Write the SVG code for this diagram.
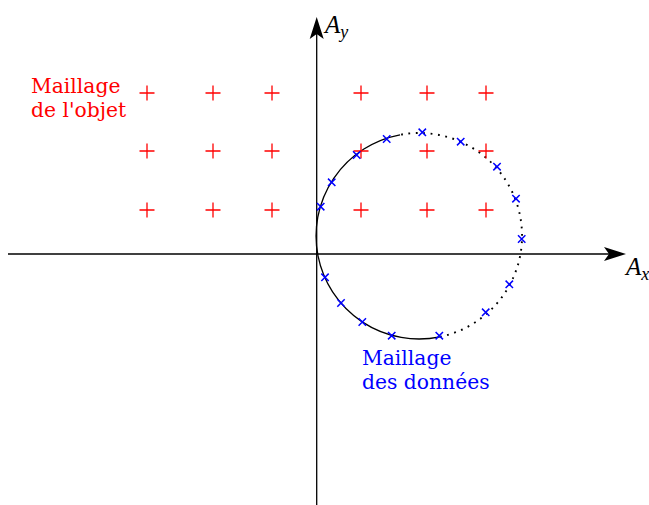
<svg xmlns="http://www.w3.org/2000/svg" width="649" height="505" viewBox="0 0 649 505">
<defs>
<style>
.axis{stroke:#000;stroke-width:1.3;fill:none}
.plus{stroke:#f00;stroke-width:1.3;fill:none}
.cross{stroke:#00f;stroke-width:1.5;fill:none}
.lbl{font-family:"DejaVu Serif",serif;font-size:20.3px}
.math{font-family:"Liberation Serif",serif;font-style:italic}
</style>
<path id="p" d="M-7.5 0H7.5M0 -7.5V7.5"/>
<path id="x" d="M-3.7 -3.7L3.7 3.7M-3.7 3.7L3.7 -3.7"/>
</defs>
<rect width="649" height="505" fill="#fff"/>
<g id="connectors">
<path class="axis" d="M8 254H612"/>
<path d="M626 254L604 247L609 254L604 261Z" fill="#000"/>
<path class="axis" d="M316.7 505V30"/>
<path d="M316.7 17L309.7 39L316.7 34L323.7 39Z" fill="#000"/>
<path class="axis" d="M400 134.77A103 103 0 1 0 440 336.84"/>
<path d="M440 336.84A103 103 0 0 0 400 134.77" fill="none" stroke="#000" stroke-width="1.9" stroke-dasharray="1.8 5.6"/>
</g>
<g id="axis-labels" class="math" fill="#000">
<text x="325" y="33" font-size="25">A<tspan font-size="18" dy="5">y</tspan></text>
<text x="626" y="275" font-size="25">A<tspan font-size="18" dy="5">x</tspan></text>
</g>
<g id="object-mesh" class="plus">
<use href="#p" x="147" y="93"/><use href="#p" x="213" y="93"/><use href="#p" x="272" y="93"/><use href="#p" x="361" y="93"/><use href="#p" x="427" y="93"/><use href="#p" x="486" y="93"/>
<use href="#p" x="147" y="151"/><use href="#p" x="213" y="151"/><use href="#p" x="272" y="151"/><use href="#p" x="361" y="151"/><use href="#p" x="427" y="151"/><use href="#p" x="486" y="151"/>
<use href="#p" x="147" y="210"/><use href="#p" x="213" y="210"/><use href="#p" x="272" y="210"/><use href="#p" x="361" y="210"/><use href="#p" x="427" y="210"/><use href="#p" x="486" y="210"/>
</g>
<g id="data-mesh" class="cross">
<use href="#x" x="386.7" y="139"/><use href="#x" x="422.3" y="132.3"/><use href="#x" x="460.7" y="141.7"/><use href="#x" x="356.7" y="155"/>
<use href="#x" x="497" y="166.7"/><use href="#x" x="331.7" y="182.3"/><use href="#x" x="516" y="198.7"/><use href="#x" x="320.7" y="206.7"/>
<use href="#x" x="521.7" y="239"/><use href="#x" x="325" y="277.3"/><use href="#x" x="509.3" y="284.3"/><use href="#x" x="341" y="303"/>
<use href="#x" x="485.7" y="312.3"/><use href="#x" x="362.3" y="322"/><use href="#x" x="391.7" y="335.7"/><use href="#x" x="439.3" y="335.7"/>
</g>
<g id="label-object" class="lbl" fill="#f00">
<text x="31" y="92.5">Maillage</text>
<text x="31" y="116.7">de l'objet</text>
</g>
<g id="label-data" class="lbl" fill="#00f">
<text x="362" y="365">Maillage</text>
<text x="362" y="389.3">des données</text>
</g>
</svg>
